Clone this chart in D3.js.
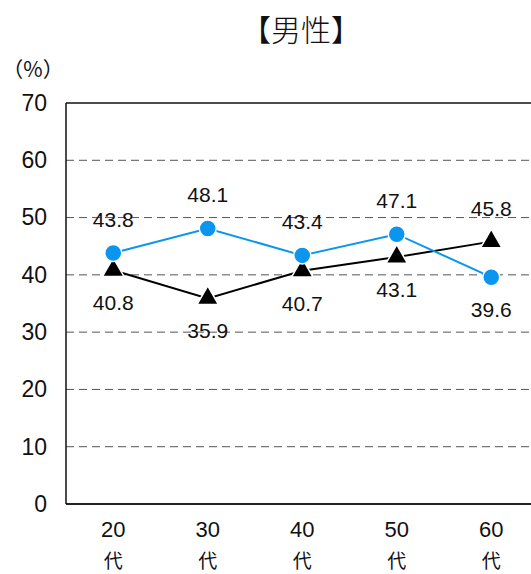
<!DOCTYPE html>
<html>
<head>
<meta charset="utf-8">
<script src="https://cdn.jsdelivr.net/npm/d3@7/dist/d3.min.js"></script>
<style>
  html, body { margin: 0; padding: 0; background: #fff; overflow: hidden; }
  svg { display: block; }
  text { font-family: "Liberation Sans", "Noto Sans", sans-serif; fill: #111; }
  .cjk { font-family: "Noto Sans CJK JP", sans-serif; }
</style>
</head>
<body>
<svg id="chart" width="531" height="574"></svg>
<script>
const categories = ["20代", "30代", "40代", "50代", "60代"];
const seriesBlue = [43.8, 48.1, 43.4, 47.1, 39.6];
const seriesBlack = [40.8, 35.9, 40.7, 43.1, 45.8];
const yTicks = [0, 10, 20, 30, 40, 50, 60, 70];

const svg = d3.select("#chart");
const margin = { left: 66, top: 103, bottom: 70 };
const plotW = 472.5;
const plotH = 574 - margin.top - margin.bottom;

const x = d3.scaleBand().domain(categories).range([margin.left, margin.left + plotW]);
const y = d3.scaleLinear().domain([0, 70]).range([margin.top + plotH, margin.top]);
const cx = c => x(c) + x.bandwidth() / 2;

// title and unit
svg.append("text").attr("class", "cjk").attr("x", 301).attr("y", 41).attr("text-anchor", "middle")
  .style("font-size", "30px").style("font-weight", 300)
  .text("【男性】");
svg.append("text").attr("class", "cjk").attr("x", 33).attr("y", 77).attr("text-anchor", "middle")
  .style("font-size", "21px")
  .text("（%）");

// dashed grid
svg.append("g").selectAll("line").data(yTicks.filter(t => t > 0 && t < 70)).join("line")
  .attr("x1", margin.left).attr("x2", 531)
  .attr("y1", d => y(d)).attr("y2", d => y(d))
  .attr("stroke", "#555").attr("stroke-width", 1).attr("stroke-dasharray", "8,5");

// frame: top, left, bottom
svg.append("line").attr("x1", margin.left).attr("x2", 531).attr("y1", y(70)).attr("y2", y(70))
  .attr("stroke", "#111").attr("stroke-width", 1.5);
svg.append("line").attr("x1", margin.left).attr("x2", 531).attr("y1", y(0)).attr("y2", y(0))
  .attr("stroke", "#222").attr("stroke-width", 2);
svg.append("line").attr("x1", margin.left).attr("x2", margin.left).attr("y1", y(70)).attr("y2", y(0))
  .attr("stroke", "#111").attr("stroke-width", 1.5);

// y axis labels
const yAxis = d3.axisLeft(y).tickValues(yTicks).tickSize(0).tickPadding(19);
const gy = svg.append("g").attr("transform", `translate(${margin.left},0)`).call(yAxis);
gy.select(".domain").remove();
gy.selectAll("text").style("font-size", "23px")
  .style("font-family", "'Liberation Sans', sans-serif")
  .attr("fill", "#111");

// x axis labels, two lines
const gx = svg.append("g");
categories.forEach(c => {
  gx.append("text").attr("x", cx(c)).attr("y", 537).attr("text-anchor", "middle")
    .style("font-size", "22px").text(c.slice(0, 2));
  gx.append("text").attr("class", "cjk").attr("x", cx(c)).attr("y", 568).attr("text-anchor", "middle")
    .style("font-size", "19px").text(c.slice(2));
});

const line = d3.line().x((d, i) => cx(categories[i])).y(d => y(d));

svg.append("path").datum(seriesBlack).attr("d", line)
  .attr("fill", "none").attr("stroke", "#000").attr("stroke-width", 2);
svg.append("path").datum(seriesBlue).attr("d", line)
  .attr("fill", "none").attr("stroke", "#0a96ee").attr("stroke-width", 2);

svg.append("g").selectAll("path").data(seriesBlack).join("path")
  .attr("transform", (d, i) => `translate(${cx(categories[i])},${y(d)})`)
  .attr("d", d3.symbol(d3.symbolTriangle, 200)())
  .attr("fill", "#000").attr("stroke", "#fff").attr("stroke-width", 1.5);

svg.append("g").selectAll("circle").data(seriesBlue).join("circle")
  .attr("cx", (d, i) => cx(categories[i])).attr("cy", d => y(d)).attr("r", 8.5)
  .attr("fill", "#0a96ee").attr("stroke", "#fff").attr("stroke-width", 1.5);

// value labels: the higher value of each pair sits above its mark, the lower below
const labels = [];
categories.forEach((c, i) => {
  const b = seriesBlue[i], k = seriesBlack[i];
  labels.push({ c, v: b, above: b >= k });
  labels.push({ c, v: k, above: k > b });
});
svg.append("g").selectAll("text").data(labels).join("text")
  .attr("x", d => cx(d.c)).attr("y", d => y(d.v) + (d.above ? -26 : 40))
  .attr("text-anchor", "middle").style("font-size", "21px")
  .text(d => d.v.toFixed(1));
</script>
</body>
</html>
